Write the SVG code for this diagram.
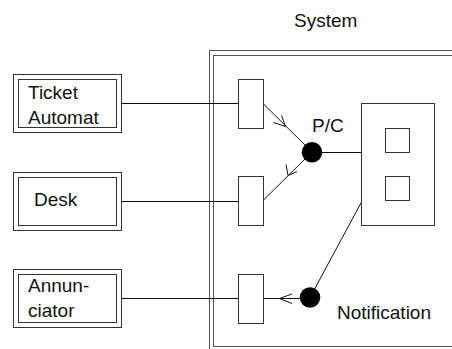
<svg xmlns="http://www.w3.org/2000/svg" width="452" height="349" viewBox="0 0 452 349">
  <defs>
    <style>
      .frame { fill: none; stroke: #555; stroke-width: 1; }
      .box { fill: #fff; stroke: #333; stroke-width: 1; }
      .wire { fill: none; stroke: #111; stroke-width: 1; }
      .head { fill: none; stroke: #111; stroke-width: 1; }
      .dot { fill: #000; }
      text { font-family: "Liberation Sans", Arial, sans-serif; font-size: 19px; fill: #111; }
    </style>
  </defs>
  <rect width="452" height="349" fill="#fff"/>

  <!-- System boundary (double frame running off the right and bottom edges) -->
  <g id="system">
    <rect class="frame" x="209.5" y="50.5" width="260" height="310"/>
    <rect class="frame" x="213.5" y="55.5" width="250" height="291"/>
    <text x="294" y="27">System</text>
  </g>

  <!-- Connectors -->
  <g id="connectors">
    <line class="wire" x1="121.5" y1="103.5" x2="238.5" y2="103.5"/>
    <line class="wire" x1="121.5" y1="201.5" x2="238.5" y2="201.5"/>
    <line class="wire" x1="121.5" y1="298.5" x2="238.5" y2="298.5"/>

    <!-- port 1 to P/C -->
    <line class="wire" x1="263.5" y1="104" x2="312" y2="152"/>
    <polyline class="head" points="273.5,122.5 285.5,126.5 281.5,115.5"/>
    <!-- P/C to port 2 -->
    <line class="wire" x1="312" y1="152" x2="263.5" y2="200"/>
    <polyline class="head" points="286,164.5 288,175.5 297,171.5"/>
    <!-- P/C to component -->
    <line class="wire" x1="312" y1="152.5" x2="361.5" y2="152.5"/>

    <!-- component to Notification, then to port 3 -->
    <line class="wire" x1="361.5" y1="202" x2="310" y2="297.5"/>
    <line class="wire" x1="263.5" y1="298.5" x2="302" y2="298.5"/>
    <polyline class="head" points="292,294 279.5,298.5 292,303.5"/>
  </g>

  <g id="ticket-automat">
    <rect class="box" x="13.5" y="74.5" width="108" height="58"/>
    <rect class="box" x="18.5" y="79.5" width="98" height="48"/>
    <text x="28" y="99">Ticket</text>
    <text x="28" y="124">Automat</text>
  </g>

  <g id="desk">
    <rect class="box" x="13.5" y="172.5" width="108" height="58"/>
    <rect class="box" x="18.5" y="177.5" width="98" height="48"/>
    <text x="34" y="206">Desk</text>
  </g>

  <g id="annunciator">
    <rect class="box" x="13.5" y="269.5" width="108" height="58"/>
    <rect class="box" x="18.5" y="274.5" width="98" height="48"/>
    <text x="28" y="291.5">Annun-</text>
    <text x="28" y="316.5">ciator</text>
  </g>

  <g id="port-1"><rect class="box" x="238.5" y="79.5" width="25" height="49"/></g>
  <g id="port-2"><rect class="box" x="238.5" y="176.5" width="25" height="49"/></g>
  <g id="port-3"><rect class="box" x="238.5" y="274.5" width="25" height="49"/></g>

  <g id="pc">
    <circle class="dot" cx="312" cy="152.3" r="10.3"/>
    <text x="312" y="132">P/C</text>
  </g>

  <g id="notification">
    <circle class="dot" cx="310" cy="297.5" r="10.3"/>
    <text x="337" y="319">Notification</text>
  </g>

  <g id="component">
    <rect class="box" x="361.5" y="103.5" width="73" height="122"/>
    <rect class="box" x="385.5" y="128.5" width="24" height="24"/>
    <rect class="box" x="385.5" y="176.5" width="24" height="24"/>
  </g>
</svg>
